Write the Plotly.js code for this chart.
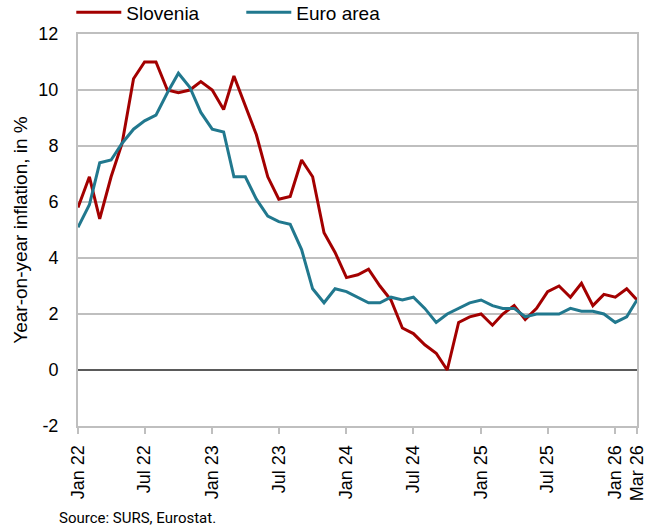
<!DOCTYPE html>
<html>
<head>
<meta charset="utf-8">
<script src="https://cdn.plot.ly/plotly-3.0.1.min.js"></script>
<style>
  html, body { margin: 0; padding: 0; background: #fff; }
  #chart { width: 651px; height: 532px; }
</style>
</head>
<body>
<div id="chart"></div>
<script>
// months Jan 2022 - Mar 2026
const months = [
  '2022-01','2022-02','2022-03','2022-04','2022-05','2022-06','2022-07','2022-08','2022-09','2022-10','2022-11','2022-12',
  '2023-01','2023-02','2023-03','2023-04','2023-05','2023-06','2023-07','2023-08','2023-09','2023-10','2023-11','2023-12',
  '2024-01','2024-02','2024-03','2024-04','2024-05','2024-06','2024-07','2024-08','2024-09','2024-10','2024-11','2024-12',
  '2025-01','2025-02','2025-03','2025-04','2025-05','2025-06','2025-07','2025-08','2025-09','2025-10','2025-11','2025-12',
  '2026-01','2026-02','2026-03'
];

const slovenia = [
  5.8, 6.9, 5.4, 6.9, 8.1, 10.4, 11.0, 11.0, 10.0, 9.9, 10.0, 10.3,
  10.0, 9.3, 10.5, 9.4, 8.4, 6.9, 6.1, 6.2, 7.5, 6.9, 4.9, 4.2,
  3.3, 3.4, 3.6, 3.0, 2.5, 1.5, 1.3, 0.9, 0.6, 0.0, 1.7, 1.9,
  2.0, 1.6, 2.0, 2.3, 1.8, 2.2, 2.8, 3.0, 2.6, 3.1, 2.3, 2.7,
  2.6, 2.9, 2.5
];

const euroArea = [
  5.1, 5.9, 7.4, 7.5, 8.1, 8.6, 8.9, 9.1, 9.9, 10.6, 10.1, 9.2,
  8.6, 8.5, 6.9, 6.9, 6.1, 5.5, 5.3, 5.2, 4.3, 2.9, 2.4, 2.9,
  2.8, 2.6, 2.4, 2.4, 2.6, 2.5, 2.6, 2.2, 1.7, 2.0, 2.2, 2.4,
  2.5, 2.3, 2.2, 2.2, 1.9, 2.0, 2.0, 2.0, 2.2, 2.1, 2.1, 2.0,
  1.7, 1.9, 2.5
];

const tickDates = ['2022-01','2022-07','2023-01','2023-07','2024-01','2024-07','2025-01','2025-07','2026-01','2026-03'];
const tickLabels = ['Jan 22','Jul 22','Jan 23','Jul 23','Jan 24','Jul 24','Jan 25','Jul 25','Jan 26','Mar 26'];

const yTicks = [-2, 0, 2, 4, 6, 8, 10, 12];
const yLabels = ['-2', '0', '2', '4', '6', '8', '10', '12'];

const red = '#a30000';
const teal = '#21788e';
const grid = '#bfbfbf';
const font = 'Liberation Sans, Arial, sans-serif';

const data = [
  {
    x: months, y: slovenia, type: 'scatter', mode: 'lines', name: 'Slovenia',
    line: { color: red, width: 3, shape: 'linear' }
  },
  {
    x: months, y: euroArea, type: 'scatter', mode: 'lines', name: 'Euro area',
    line: { color: teal, width: 3, shape: 'linear' }
  }
];

const layout = {
  width: 651,
  height: 532,
  margin: { l: 78, r: 14, t: 34, b: 106, autoexpand: false },
  paper_bgcolor: '#fff',
  plot_bgcolor: '#fff',
  font: { family: font, size: 18, color: '#000' },
  showlegend: true,
  legend: {
    orientation: 'h',
    x: -0.012, xanchor: 'left',
    y: 1.055, yanchor: 'middle',
    itemwidth: 45,
    entrywidth: 110, entrywidthmode: 'pixels',
    font: { family: font, size: 19, color: '#000' },
    bgcolor: 'rgba(0,0,0,0)'
  },
  xaxis: {
    type: 'date',
    range: ['2022-01-01', '2026-03-01'],
    tickmode: 'array',
    tickvals: tickDates,
    ticktext: tickLabels,
    tickangle: -90,
    ticks: 'outside', ticklen: 6, tickwidth: 1.5, tickcolor: grid,
    ticklabelstandoff: 4,
    showgrid: false,
    zeroline: false,
    showline: true, mirror: true, linecolor: grid, linewidth: 2,
    tickfont: { family: font, size: 18, color: '#000' }
  },
  yaxis: {
    range: [-2, 12],
    tickmode: 'array', tickvals: yTicks, ticktext: yLabels,
    ticks: '',
    showgrid: true, gridcolor: grid, gridwidth: 2,
    zeroline: true, zerolinecolor: '#5a5a5a', zerolinewidth: 1.5,
    showline: true, mirror: true, linecolor: grid, linewidth: 2,
    tickfont: { family: font, size: 18, color: '#000' },
    ticklabelstandoff: 14,
    title: { text: 'Year-on-year inflation, in %', font: { family: font, size: 19, color: '#000' }, standoff: 6 }
  },
  annotations: [
    {
      text: 'Source: SURS, Eurostat.',
      xref: 'paper', yref: 'paper',
      x: -0.038, xanchor: 'left',
      y: -0.235, yanchor: 'middle',
      showarrow: false,
      font: { family: 'Roboto, sans-serif', size: 15, color: '#000' }
    }
  ]
};

Plotly.newPlot('chart', data, layout, { displayModeBar: false, responsive: false });
</script>
</body>
</html>
